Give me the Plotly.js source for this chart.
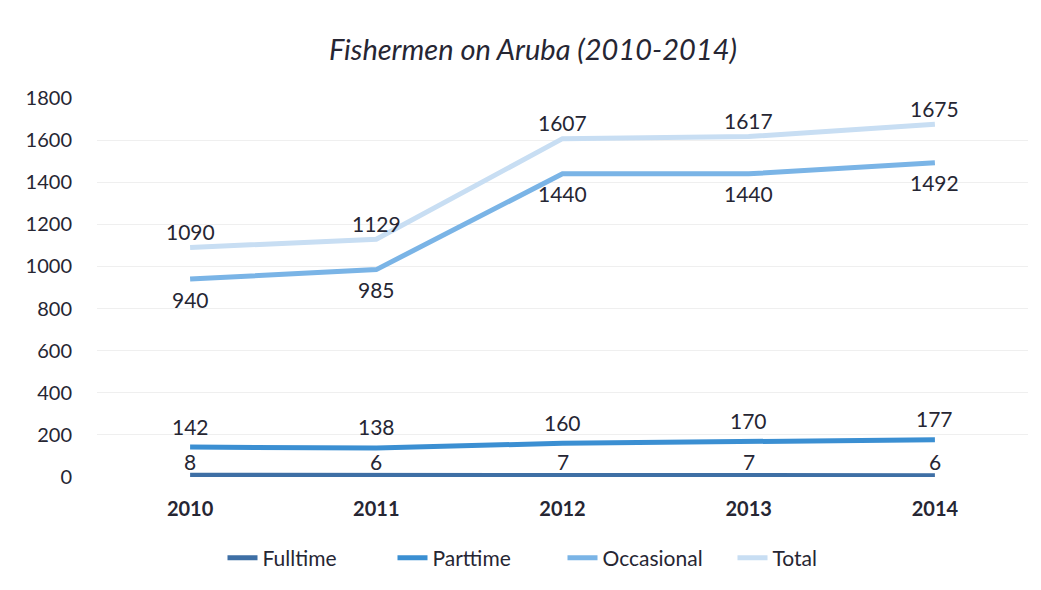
<!DOCTYPE html>
<html>
<head>
<meta charset="utf-8">
<script src="https://cdn.plot.ly/plotly-3.0.1.min.js"></script>
<style>html,body{margin:0;padding:0;background:#fff;}#chart{width:1041px;height:590px;}</style>
</head>
<body>
<div id="chart"></div>
<script>
const years = ["2010", "2011", "2012", "2013", "2014"];
const fulltime = [8, 6, 7, 7, 6];
const parttime = [142, 138, 160, 170, 177];
const occasional = [940, 985, 1440, 1440, 1492];
const total = [1090, 1129, 1607, 1617, 1675];
const yTicks = [0, 200, 400, 600, 800, 1000, 1200, 1400, 1600, 1800];

const font = "Lato, 'Open Sans', sans-serif";
const seriesDefs = [
  {name: "Fulltime", y: fulltime, color: "#3E6FA5", shift: 14},
  {name: "Parttime", y: parttime, color: "#3B8FD2", shift: 21},
  {name: "Occasional", y: occasional, color: "#7AB4E6", shift: -20},
  {name: "Total", y: total, color: "#C8DEF3", shift: 16}
];
const data = seriesDefs.map(s => ({
  type: "scatter", mode: "lines", name: s.name,
  x: years, y: s.y,
  line: {color: s.color, width: 5},
  cliponaxis: false, hoverinfo: "x+y"
}));
const annotations = [];
seriesDefs.forEach(s => {
  s.y.forEach((v, i) => {
    annotations.push({
      x: i, y: v, xref: "x", yref: "y", text: String(v),
      showarrow: false, yshift: s.shift,
      font: {family: font, size: 21, color: "#262633"}
    });
  });
});
const layout = {
  width: 1041, height: 590,
  margin: {l: 97, r: 13, t: 98, b: 113},
  paper_bgcolor: "#fff", plot_bgcolor: "#fff",
  title: {text: "<i>Fishermen on Aruba (2010-2014)</i>", font: {family: font, size: 29, color: "#262633"}, x: 0.512, xanchor: "center", y: 0.915, yanchor: "middle"},
  xaxis: {type: "category", range: [-0.5, 4.5], showgrid: false, zeroline: false, showline: false,
    tickfont: {family: font, size: 20, color: "#262633", weight: "bold"}, ticklabelstandoff: 18},
  yaxis: {range: [0, 1800], tickvals: yTicks, ticktext: yTicks.map(String), showgrid: true, gridcolor: "#EFEFEF",
    zeroline: false, showline: false, tickfont: {family: font, size: 20, color: "#262633"}, ticklabelstandoff: 24},
  annotations: annotations,
  showlegend: true,
  legend: {orientation: "h", x: 0.5, xanchor: "center", y: -0.214, yanchor: "middle",
    font: {family: font, size: 21, color: "#262633"}, itemwidth: 30, traceorder: "normal",
    entrywidth: 125, entrywidthmode: "pixels"}
};
Plotly.newPlot("chart", data, layout, {displayModeBar: false, staticPlot: true});
</script>
</body>
</html>
